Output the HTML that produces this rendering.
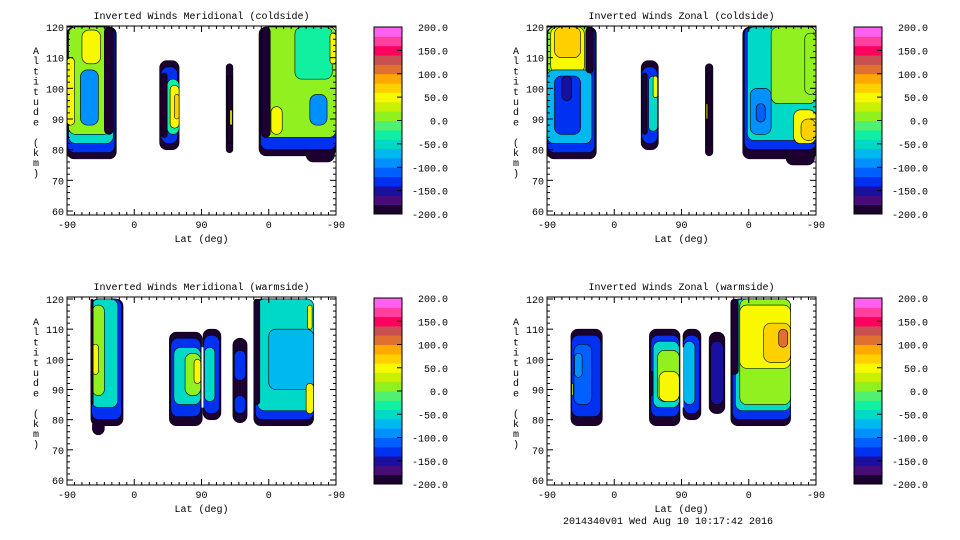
<!DOCTYPE html>
<html><head><meta charset="utf-8"><style>
html,body{margin:0;padding:0;background:#fff;}
svg{display:block;font-family:"Liberation Mono",monospace;font-size:10px;}
</style></head><body>
<svg id="c" width="960" height="540" viewBox="0 0 960 540" xmlns="http://www.w3.org/2000/svg"></svg>
<script>
// colour scale bins (-200..200, step 20)
const levels = [-200,-180,-160,-140,-120,-100,-80,-60,-40,-20,0,20,40,60,80,100,120,140,160,180];
const levelColors = ["#1c0030","#4a0a78","#1a10a0","#0030f0","#0060ff","#0090ff","#00b8f0","#00d8c8","#10f0a0","#50f070","#90f020","#c8f000","#f8f800","#ffd000","#ffa800","#e07030","#c85050","#ff0060","#ff40a0","#ff60f0"];
const cbarTicks = ["200.0","150.0","100.0","50.0","0.0","-50.0","-100.0","-150.0","-200.0"];
const xTickLabels = ["-90","0","90","0","-90"];
const yTickLabels = [60,70,80,90,100,110,120];
const titles = ["Inverted Winds Meridional (coldside)","Inverted Winds Zonal (coldside)","Inverted Winds Meridional (warmside)","Inverted Winds Zonal (warmside)"];
// blobs: [trackStart, trackEnd, altLow, altHigh, windValue]  (track 0..360 along orbit)
const blobsMerCold = [
 [0,66,77,120,-190],[1,64,79,120,-130],[2,62,82,120,-60],[2,58,85,120,10],[20,45,108,119,40],[0,10,88,110,40],[18,42,88,106,-90],[50,62,85,120,-200],
 [124,150,80,109,-190],[126,148,82,107,-140],[134,150,85,103,-40],[138,150,87,101,40],[144,150,90,98,60],[127,134,84,105,-200],
 [213,222,79,108,-190],[215,221,82,104,-200],[218,221,88,93,40],
 [257,360,78,120,-190],[320,358,76,84,-190],[259,360,80,120,-130],[262,360,84,120,0],[305,355,103,120,-40],[260,272,84,120,-200],[273,288,85,94,40],[325,348,88,98,-90],[352,360,108,118,40]
];
const blobsZonCold = [
 [0,66,77,120,-190],[1,64,79,120,-140],[1,60,82,120,0],[5,50,105,120,40],[10,45,110,120,70],[0,60,82,106,-70],[10,45,85,104,-130],[20,33,96,104,-160],[52,62,105,120,-200],
 [126,149,80,109,-190],[127,148,82,107,-130],[136,148,86,104,-50],[142,148,97,104,50],[128,134,85,105,-200],
 [212,222,78,108,-190],[214,220,81,105,-200],[213,215,90,95,40],
 [262,360,77,120,-190],[320,358,75,84,-190],[264,360,80,120,-140],[268,360,83,120,-50],[300,360,95,120,0],[330,360,82,93,40],[340,360,83,90,70],[272,300,85,100,-90],[280,292,89,95,-120],[345,360,98,118,10]
];
const blobsMerWarm = [
 [32,75,78,120,-190],[34,50,75,80,-190],[33,73,80,120,-130],[33,68,84,120,-60],[34,50,88,118,10],[34,42,95,105,40],[32,35,85,120,-200],
 [137,181,78,109,-190],[139,179,81,107,-140],[143,179,85,104,-60],[158,179,88,102,10],[170,179,92,100,40],
 [182,206,80,110,-190],[183,204,82,108,-140],[184,198,86,104,-50],
 [222,241,79,107,-190],[224,239,93,103,-140],[224,239,82,88,-140],
 [250,330,78,120,-190],[252,330,80,120,-130],[255,330,83,120,-60],[270,330,90,110,-80],[320,330,82,92,40],[322,328,110,118,40],[250,258,85,120,-200]
];
const blobsZonWarm = [
 [32,74,78,110,-190],[33,72,81,108,-140],[36,60,85,105,-110],[37,47,94,102,-90],[33,35,88,92,20],
 [137,178,78,110,-190],[139,177,81,108,-140],[142,177,84,106,-60],[148,177,86,103,10],[150,177,86,96,50],[137,142,88,96,-200],
 [182,206,80,110,-190],[183,204,82,108,-140],[183,198,85,106,-70],
 [217,238,82,109,-190],[219,236,85,106,-150],
 [246,326,78,120,-190],[248,326,80,120,-130],[252,326,83,120,-60],[258,326,85,120,10],[258,326,97,118,40],[290,326,99,112,70],[310,322,104,110,110],[246,256,95,120,-200]
];
const panelBlobs = [blobsMerCold, blobsZonCold, blobsMerWarm, blobsZonWarm];
</script>
<script>
const NS="http://www.w3.org/2000/svg";
const svg=document.getElementById('c');
function mk(tag,attrs,parent){const e=document.createElementNS(NS,tag);for(const k in attrs)e.setAttribute(k,attrs[k]);(parent||svg).appendChild(e);return e;}
function colorFor(v){let i=Math.floor((v+200)/20);i=Math.max(0,Math.min(levelColors.length-1,i));return levelColors[i];}
const panels=[{x0:67,x1:336,yt:26,yb:215,y120:27,y60:211},{x0:547,x1:816,yt:26,yb:215,y120:27,y60:211},
 {x0:67,x1:336,yt:297,yb:485,y120:299,y60:480},{x0:547,x1:816,yt:297,yb:485,y120:299,y60:480}];
panels.forEach((p,pi)=>{
  const g=mk('g',{});
  
  
  const xs=t=>p.x0+t*(p.x1-p.x0)/360;
  const ys=a=>p.y60+(a-60)*(p.y120-p.y60)/60;
  const clip=mk('clipPath',{id:'clip'+pi},g);
  mk('rect',{x:p.x0,y:p.yt,width:p.x1-p.x0,height:p.yb-p.yt},clip);
  const cg=mk('g',{'clip-path':'url(#clip'+pi+')'},g);
  panelBlobs[pi].forEach(b=>{
    const x=xs(b[0]),w=xs(b[1])-x,y=ys(b[3]),h=ys(b[2])-y;
    const r=Math.min(w/2,h/2,7);
    const el=mk('rect',{x:x,y:y,width:w,height:h,rx:r,ry:r,fill:colorFor(b[4]),stroke:'#000','stroke-width':0.6},cg);
    
    
  });
  if(pi===2||pi===3){mk('rect',{x:xs(180),y:ys(104),width:2,height:ys(84)-ys(104),fill:'#fff'},cg);}
  const fr=mk('rect',{x:p.x0,y:p.yt,width:p.x1-p.x0,height:p.yb-p.yt,fill:'none',stroke:'#000','stroke-width':1},g);
  
  for(let a=60;a<=120;a+=2){const y=ys(a);const L=(a%10===0)?6:3;
    mk('line',{x1:p.x0,x2:p.x0+L,y1:y,y2:y,stroke:'#000','stroke-width':1},g);
    mk('line',{x1:p.x1,x2:p.x1-L,y1:y,y2:y,stroke:'#000','stroke-width':1},g);}
  yTickLabels.forEach(v=>{const t=mk('text',{x:p.x0-3,y:ys(v)+4,'text-anchor':'end'},g);t.textContent=v;
    });
  for(let t=0;t<=360;t+=10){const x=xs(t);const L=(t%90===0)?6:3;
    mk('line',{x1:x,x2:x,y1:p.yb,y2:p.yb-L,stroke:'#000','stroke-width':1},g);
    mk('line',{x1:x,x2:x,y1:p.yt,y2:p.yt+L,stroke:'#000','stroke-width':1},g);}
  xTickLabels.forEach((l,i)=>{const t=mk('text',{x:xs(i*90),y:p.yb+13,'text-anchor':'middle'},g);t.textContent=l;
    });
  const xt=mk('text',{x:(p.x0+p.x1)/2,y:p.yb+27,'text-anchor':'middle'},g);xt.textContent='Lat (deg)';
  
  const tt=mk('text',{x:(p.x0+p.x1)/2,y:p.yt-7,'text-anchor':'middle'},g);tt.textContent=titles[pi];
  
  const yl=mk('text',{x:p.x0-31,y:0,'text-anchor':'middle'},g);
  
  'Altitude (km)'.split('').forEach((ch,i)=>{const s=mk('tspan',{x:p.x0-31,y:p.yt+28+i*10.2},yl);s.textContent=ch;});
  const cx=p.x0+307,cw=28,ct=p.yt+1,cb=p.yb-1;
  const cbg=mk('g',{},g);
  const bh=(cb-ct)/levels.length;
  levels.forEach((lv,i)=>{mk('rect',{x:cx,y:cb-(i+1)*bh,width:cw,height:bh+0.5,fill:colorFor(lv)},cbg);});
  mk('rect',{x:cx,y:ct,width:cw,height:cb-ct,fill:'none',stroke:'#000','stroke-width':1},cbg);
  cbarTicks.forEach((l,i)=>{const y=ct+i*(cb-ct)/8;
    mk('line',{x1:cx+cw-5,x2:cx+cw,y1:y,y2:y,stroke:'#000','stroke-width':1},cbg);
    const t=mk('text',{x:cx+74,y:y+4,'text-anchor':'end'},cbg);t.textContent=l;
    });
});
const ft=mk('text',{x:668,y:524,'text-anchor':'middle'});ft.textContent='2014340v01 Wed Aug 10 10:17:42 2016';

</script>
</body></html>
